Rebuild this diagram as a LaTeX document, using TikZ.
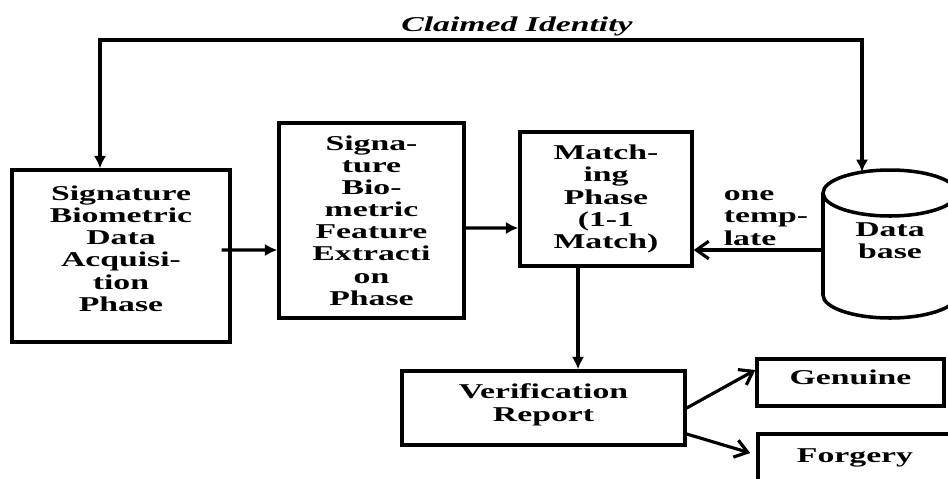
\documentclass[tikz,border=0pt]{standalone}
\usepackage{fontspec}
\setmainfont{Liberation Serif}[FakeStretch=1.6]
\usetikzlibrary{arrows.meta}

\tikzset{
  phase/.style={draw, line width=2pt, align=center, inner sep=2pt,
    font=\fontsize{12}{12.6}\selectfont\bfseries},
  lbl/.style={inner sep=1pt, font=\fontsize{12}{12.6}\selectfont\bfseries},
  flow/.style={line width=1.8pt, -{Latex[length=7pt,width=7pt]}},
  barb/.style={line width=1.8pt, -{Straight Barb[length=7pt,width=10pt]}},
}

\begin{document}
\begin{tikzpicture}[x=0.02cm, y=-0.02cm]
		\useasboundingbox (0,0) rectangle (948,478);
		% phases
		\node[phase, minimum width=4.36cm, minimum height=3.44cm, text depth=0.3cm] (acq) at (121,256) {Signature\\Biometric\\Data\\Acquisi-\\tion\\Phase};
		\node[phase, minimum width=3.70cm, minimum height=3.90cm] (feat) at (371.5,220.5) {Signa-\\ture\\Bio-\\metric\\Feature\\Extracti\\on\\Phase};
		\node[phase, minimum width=3.44cm, minimum height=2.68cm] (match) at (606,199) {Match-\\ing\\Phase\\(1-1\\Match)};
		\node[phase, minimum width=5.66cm, minimum height=1.48cm, text depth=0.22cm] (verif) at (543.5,408) {Verification\\Report};
		\node[phase, minimum width=3.74cm, minimum height=0.94cm, text depth=0.2cm] (gen) at (850.5,382.5) {Genuine};
		\node[phase, minimum width=3.88cm, minimum height=0.96cm] (forg) at (855,458) {Forgery};
		% database
		\draw[line width=2pt] (890,193) ellipse [x radius=1.34cm, y radius=0.46cm];
		\draw[line width=2pt] (823,193) -- (823,295) arc[start angle=180, end angle=360, x radius=1.34cm, y radius=0.46cm] -- (957,193);
		\node[lbl, align=center] (db) at (890,241) {Data\\base};
		\coordinate (dbtop) at (862,172);
		\coordinate (dbleft) at (823,250);
		\coordinate (claim) at (517,40);
		\node[lbl, align=left] (tmpl) at (766,218) {one\\temp-\\late};
		% connectors
		\draw[line width=1.8pt, {Latex[length=7pt,width=7pt]}-{Latex[length=7pt,width=7pt]}] ([xshift=-0.42cm]acq.north) |- (claim) -| (dbtop);
		\node[lbl, above=1pt, font=\fontsize{12}{12.6}\selectfont\bfseries\itshape] (claimtxt) at (claim) {Claimed Identity};
		\draw[flow] ([shift={(-10,-6)}]acq.east) -- ([yshift=-0.59cm]feat.west);
		\draw[flow] ([yshift=-0.15cm]feat.east) -- ([yshift=-0.58cm]match.west);
		\draw[barb] (dbleft) -- (match.east |- dbleft);
		\draw[flow] ([xshift=-0.56cm]match.south) -- ([xshift=-0.56cm]match.south |- verif.north);
		\draw[barb] (verif.east) -- ([yshift=0.25cm]gen.west);
		\draw[barb] ([yshift=-0.52cm]verif.east) -- ([shift={(-6,-5)}]forg.west);
	\end{tikzpicture}
\end{document}
